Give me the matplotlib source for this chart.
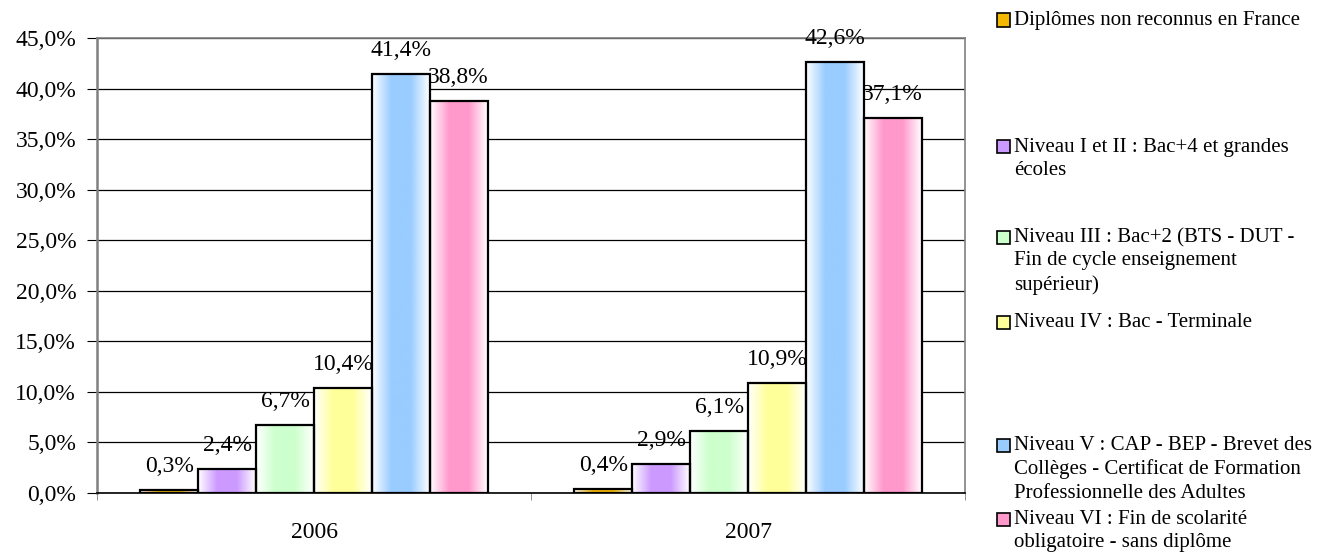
import matplotlib.pyplot as plt
import numpy as np
from matplotlib.colors import LinearSegmentedColormap
from matplotlib.patches import Rectangle

plt.rcParams['font.family'] = ['Liberation Serif', 'DejaVu Serif']

years = ['2006', '2007']
series = ['Diplômes non reconnus en France',
          'Niveau I et II : Bac+4 et grandes\nécoles',
          'Niveau III : Bac+2 (BTS - DUT -\nFin de cycle enseignement\nsupérieur)',
          'Niveau IV : Bac - Terminale',
          'Niveau V : CAP - BEP - Brevet des\nCollèges - Certificat de Formation\nProfessionnelle des Adultes',
          'Niveau VI : Fin de scolarité\nobligatoire - sans diplôme']
v2006 = [0.3, 2.4, 6.7, 10.4, 41.4, 38.8]
v2007 = [0.4, 2.9, 6.1, 10.9, 42.6, 37.1]
colors = ['#F5B800', '#CC99FF', '#CCFFCC', '#FFFF99', '#99CCFF', '#FF99CC']
legend_y = [20, 147, 237, 322, 445, 519]  # pixel rows of first legend line

W, H = 1323, 557
fig = plt.figure(figsize=(W / 100, H / 100), dpi=100)
ax = fig.add_axes([97 / W, 1 - 493 / H, (965 - 97) / W, (493 - 38) / H])

values = np.array([v2006, v2007])
n = len(series)
width = 0.8 / n
xc = np.arange(len(years))

grad = np.linspace(0, 1, 256)
prof = 1 - np.abs(grad - 0.5) * 2
prof = np.clip(prof * 1.5, 0, 1)

for i in range(n):
    cmap = LinearSegmentedColormap.from_list('g', ['white', colors[i]])
    xs = xc - 0.4 + width * (i + 0.5)
    bars = ax.bar(xs, values[:, i], width, facecolor='none', edgecolor='black',
                  linewidth=1.6, zorder=3)
    for b, v in zip(bars, values[:, i]):
        x0 = b.get_x()
        im = ax.imshow(prof[np.newaxis, :], cmap=cmap, vmin=0, vmax=1,
                       extent=[x0, x0 + width, 0, v], aspect='auto', zorder=2,
                       interpolation='bilinear')
        clip = Rectangle((x0, 0), width, v, transform=ax.transData)
        im.set_clip_path(clip)
        lab = f'{v:.1f}%'.replace('.', ',')
        ax.annotate(lab, (x0 + width / 2, v), xytext=(0, 13), textcoords='offset points',
                    ha='center', va='baseline', fontsize=17, zorder=4)

ax.set_xlim(-0.5, 1.5)
ax.set_ylim(0, 45)
ax.set_yticks(np.arange(0, 46, 5))
ax.set_yticklabels([f'{t:.1f}%'.replace('.', ',') for t in np.arange(0, 46, 5)], fontsize=17)
ax.set_xticks(xc)
ax.set_xticklabels(years, fontsize=17)
ax.set_xticks([-0.5, 0.5, 1.5], minor=True)
ax.tick_params(axis='x', which='major', length=0, pad=21)
ax.tick_params(axis='x', which='minor', length=5, direction='out', color='#808080')
ax.tick_params(axis='y', length=7, direction='out', color='black', pad=8)
ax.yaxis.grid(True, color='black', linewidth=0.9)
ax.set_axisbelow(True)
for s in ['top', 'right', 'left']:
    ax.spines[s].set_color('#808080')
    ax.spines[s].set_linewidth(1.2)
ax.spines['left'].set_linewidth(1.8)
ax.spines['bottom'].set_color('black')
ax.spines['bottom'].set_linewidth(1.2)

for i in range(n):
    yf = 1 - legend_y[i] / H
    fig.patches.append(Rectangle((997 / W, yf - 6.5 / H), 13 / W, 13 / H,
                                 transform=fig.transFigure, facecolor=colors[i],
                                 edgecolor='black', linewidth=1.2))
    fig.text(1014 / W, yf + 9 / H, series[i], fontsize=15, va='top', ha='left',
             linespacing=1.3)

fig.savefig('out.png', dpi=100)
